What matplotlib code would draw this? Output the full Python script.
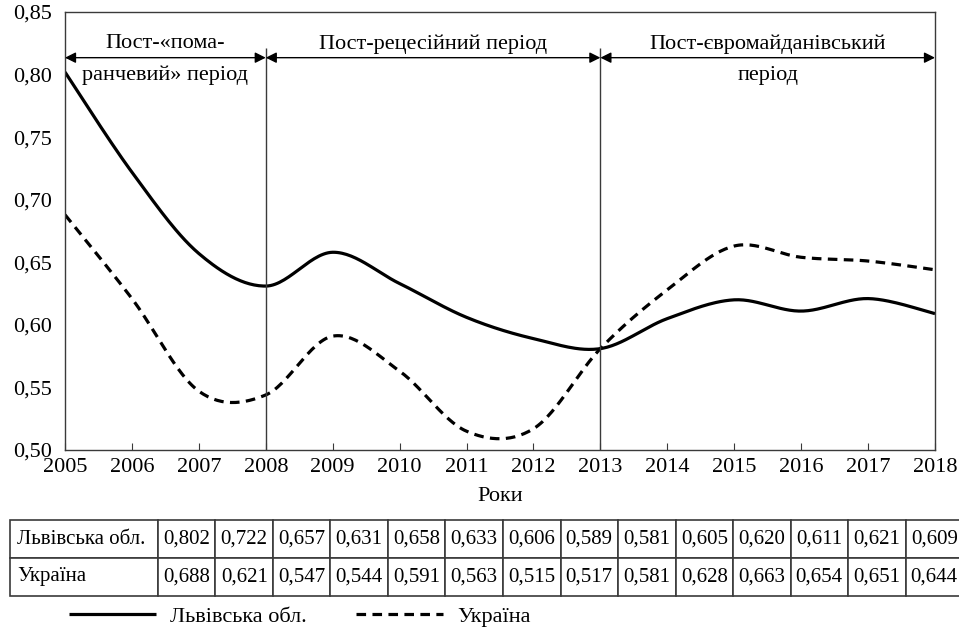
import numpy as np
import matplotlib
matplotlib.use("Agg")
import matplotlib.pyplot as plt
from matplotlib.ticker import FuncFormatter

# Дані
years = [2005, 2006, 2007, 2008, 2009, 2010, 2011, 2012, 2013, 2014, 2015, 2016, 2017, 2018]
lviv = [0.802, 0.722, 0.657, 0.631, 0.658, 0.633, 0.606, 0.589, 0.581, 0.605, 0.620, 0.611, 0.621, 0.609]
ukraine = [0.688, 0.621, 0.547, 0.544, 0.591, 0.563, 0.515, 0.517, 0.581, 0.628, 0.663, 0.654, 0.651, 0.644]
series_names = ["Львівська обл.", "Україна"]
periods = [(2005, 2008, "Пост-«пома-", "ранчевий» період"),
           (2008, 2013, "Пост-рецесійний період", ""),
           (2013, 2018, "Пост-євромайданівський", "період")]
x_label = "Роки"

plt.rcParams['font.family'] = ['Liberation Serif', 'DejaVu Serif']
plt.rcParams['font.size'] = 16
GRAY = '#3a3a3a'
FS = 16


# Згладжування як у Excel (Катмулл-Ром через кубічні Безьє)
def smooth(x, y, n=30):
    x = np.asarray(x, float)
    y = np.asarray(y, float)
    xs, ys = [], []
    for i in range(len(x) - 1):
        i0 = max(i - 1, 0)
        i3 = min(i + 2, len(x) - 1)
        p0 = np.array([x[i], y[i]])
        p3 = np.array([x[i + 1], y[i + 1]])
        c1 = p0 + (np.array([x[i + 1], y[i + 1]]) - np.array([x[i0], y[i0]])) / 6
        c2 = p3 - (np.array([x[i3], y[i3]]) - np.array([x[i], y[i]])) / 6
        t = np.linspace(0, 1, n)[:, None]
        pts = ((1 - t) ** 3) * p0 + 3 * ((1 - t) ** 2) * t * c1 + 3 * (1 - t) * t ** 2 * c2 + t ** 3 * p3
        xs.append(pts[:, 0])
        ys.append(pts[:, 1])
    return np.concatenate(xs), np.concatenate(ys)


fig = plt.figure(figsize=(9.59, 6.30), dpi=100)
ax = fig.add_axes([65 / 959, 1 - 450 / 630, 870 / 959, 438 / 630])

sx, sy = smooth(years, lviv)
ax.plot(sx, sy, color='black', lw=2.3, label=series_names[0], solid_capstyle='butt')
sx, sy = smooth(years, ukraine)
ax.plot(sx, sy, color='black', lw=2.3, dashes=(3, 2), label=series_names[1])

ax.set_xlim(years[0], years[-1])
ax.set_ylim(0.50, 0.85)
ax.set_xticks(years)
ax.set_yticks(np.arange(0.50, 0.851, 0.05))
ax.yaxis.set_major_formatter(FuncFormatter(lambda v, p: f"{v:.2f}".replace('.', ',')))
ax.tick_params(axis='x', direction='in', length=5, pad=6, color=GRAY, labelsize=FS)
ax.tick_params(axis='y', length=0, pad=9, labelsize=FS)
ax.set_xlabel(x_label, fontsize=FS, labelpad=7)
for s in ax.spines.values():
    s.set_color(GRAY)
    s.set_linewidth(1.0)

# Періоди
for x0, x1, t1, t2 in periods:
    ax.annotate('', xy=(x0, 0.8135), xytext=(x1, 0.8135),
                arrowprops=dict(arrowstyle='<|-|>', color='black', lw=1, mutation_scale=16,
                                shrinkA=0, shrinkB=0))
    xm = (x0 + x1) / 2
    ax.text(xm, 0.8245, t1, ha='center', va='center', fontsize=FS)
    if t2:
        ax.text(xm, 0.7995, t2, ha='center', va='center', fontsize=FS)
ax.vlines([periods[0][1], periods[1][1]], 0.50, 0.8215, color=GRAY, lw=1)

# Таблиця
tax = fig.add_axes([10 / 959, 1 - 596 / 630, 953 / 959, 76 / 630])
tax.axis('off')
cell_text = [[series_names[0]] + [f"{v:.3f}".replace('.', ',') for v in lviv],
             [series_names[1]] + [f"{v:.3f}".replace('.', ',') for v in ukraine]]
w0 = 148 / 953
wc = (1 - w0) / len(years)
tbl = tax.table(cellText=cell_text, colWidths=[w0] + [wc] * len(years),
                bbox=[0, 0, 1, 1], cellLoc='center')
tbl.auto_set_font_size(False)
tbl.set_fontsize(15)
for (r, c), cell in tbl.get_celld().items():
    cell.set_edgecolor(GRAY)
    cell.set_linewidth(1.2)
    if c == 0:
        cell._loc = 'left'
        cell.PAD = 0.05
        cell.get_text().set_ha('left')

fig.legend(loc='center left', bbox_to_anchor=(58 / 959, 1 - 617 / 630), ncol=2, frameon=False,
           handlelength=3.9, handletextpad=0.65, columnspacing=2.2, borderpad=0, fontsize=FS)

fig.savefig('out.png', dpi=100)
